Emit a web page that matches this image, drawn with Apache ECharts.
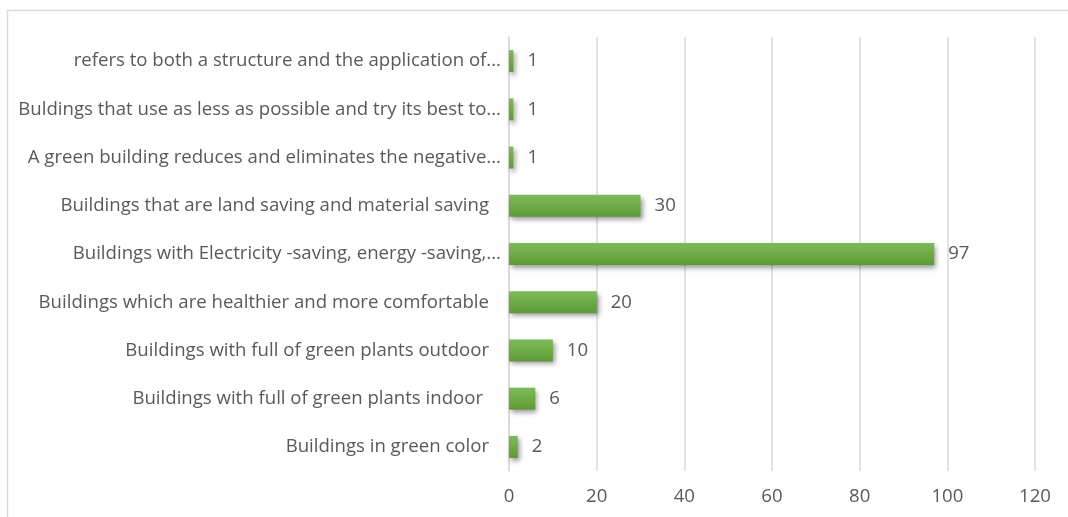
<!DOCTYPE html>
<html>
<head>
<meta charset="utf-8">
<style>
  html, body { margin: 0; padding: 0; background: #ffffff; }
  #chart { width: 1068px; height: 517px; }
</style>
<script src="https://cdn.jsdelivr.net/npm/echarts@6/dist/echarts.min.js"></script>
</head>
<body>
<div id="chart"></div>
<script>
// Survey answers: what respondents understand by "green building"
const categories = [
  'refers to both a structure and the application of...',
  'Buldings that use as less as possible and try its best to...',
  'A green building reduces and eliminates the negative...',
  'Buildings that are land saving and material saving',
  'Buildings with Electricity -saving, energy -saving,...',
  'Buildings which are healthier and more comfortable',
  'Buildings with full of green plants outdoor',
  'Buildings with full of green plants indoor',
  'Buildings in green color'
];
const counts = [1, 1, 1, 30, 97, 20, 10, 6, 2];
const axisMin = 0;
const axisMax = 120;
const axisStep = 20;

// Extra right padding for labels whose source text ends with blank space
const labelTrail = [0, 0, 0, 12, 0, 12, 12, 18, 12];

const textColor = '#595959';
const fontFamily = '"Open Sans", "Noto Sans", sans-serif';
const fontSize = 18.6;

const chart = echarts.init(document.getElementById('chart'));
chart.setOption({
  backgroundColor: '#ffffff',
  animation: false,
  graphic: [{
    type: 'rect',
    shape: { x: 7.5, y: 10.5, width: 1200, height: 700 },
    style: { fill: 'none', stroke: '#d9d9d9', lineWidth: 1.5 },
    silent: true,
    z: -1
  }],
  grid: { left: 509, right: 33, top: 37, bottom: 46, containLabel: false },
  xAxis: {
    type: 'value',
    min: axisMin,
    max: axisMax,
    interval: axisStep,
    axisLine: { show: false },
    axisTick: { show: false },
    axisLabel: { color: textColor, fontSize: fontSize, fontFamily: fontFamily, margin: 16 },
    splitLine: { lineStyle: { color: '#d9d9d9', width: 1.5 } }
  },
  yAxis: {
    type: 'category',
    inverse: true,
    data: categories.map((name, i) => ({
      value: name,
      textStyle: { padding: [3, labelTrail[i], 0, 0] }
    })),
    axisLine: { show: true, lineStyle: { color: '#d9d9d9', width: 1.5 } },
    axisTick: { show: false },
    axisLabel: { color: textColor, fontSize: fontSize, fontFamily: fontFamily, margin: 8 }
  },
  series: [{
    type: 'bar',
    data: counts,
    barWidth: 22,
    itemStyle: {
      color: new echarts.graphic.LinearGradient(0, 0, 0, 1, [
        { offset: 0, color: '#7dba5a' },
        { offset: 0.5, color: '#6fab45' },
        { offset: 1, color: '#5c9a36' }
      ]),
      shadowColor: 'rgba(0,0,0,0.4)',
      shadowBlur: 5,
      shadowOffsetX: 2,
      shadowOffsetY: 3
    },
    label: {
      show: true,
      position: 'right',
      distance: 14,
      padding: [3, 0, 0, 0],
      color: textColor,
      fontSize: fontSize,
      fontFamily: fontFamily
    }
  }]
});
</script>
</body>
</html>
